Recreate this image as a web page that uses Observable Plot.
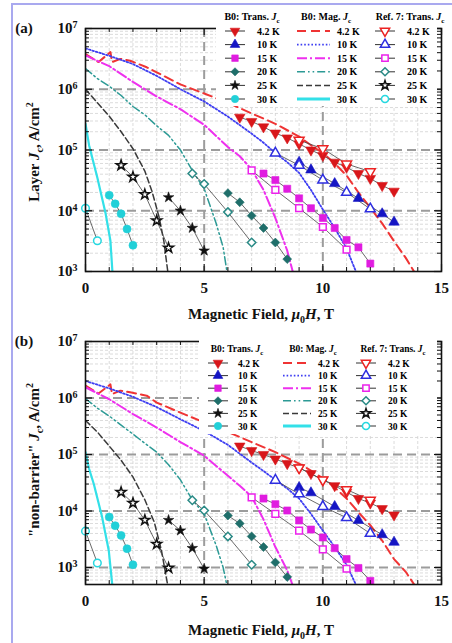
<!DOCTYPE html>
<html><head><meta charset="utf-8">
<script src="https://cdn.jsdelivr.net/npm/d3@7"></script>
<script src="https://cdn.jsdelivr.net/npm/@observablehq/plot@0.6"></script>
<style>
body{margin:0;background:#fff;}
#wrap{position:relative;width:452px;height:643px;overflow:hidden;background:#fff;font-family:"Liberation Serif","Times New Roman",serif;}
#border{position:absolute;left:11px;top:3px;width:470px;height:680px;border-left:2px solid #a9a9ef;border-top:2px solid #a9a9ef;}
.panel{position:absolute;left:0;}
</style></head><body><div id="wrap"><div id="border"></div></div>
<script>
// ---------------- DATA ----------------
const temps = ["4.2 K", "10 K", "15 K", "20 K", "25 K", "30 K"];
const legendHeaders = ["B0: Trans. ", "B0: Mag. ", "Ref. 7: Trans. "];
const xTicks = [0, 5, 10, 15];
const yTicks = [1e3, 1e4, 1e5, 1e6, 1e7];

// Panel (a): Layer Jc
const aTransField = [
  [6.5, 7, 7.5, 8, 8.5, 9, 9.5, 10, 10.5, 11, 11.5, 12, 12.5, 13],
  [9, 9.5, 10.5, 11.5, 12.5, 13],
  [7.5, 8, 8.5, 9, 9.5, 10, 10.5, 11, 11.5, 12],
  [6, 6.5, 7, 7.5, 8, 8.5],
  [3.5, 4, 4.5, 5],
  [1, 1.25, 1.5, 1.75, 2]
];
const aTransJc = [
  [3.47e5, 2.95e5, 2.4e5, 1.9e5, 1.58e5, 1.26e5, 1.0e5, 8.1e4, 6.3e4, 5.2e4, 4.1e4, 3.4e4, 2.6e4, 2.1e4],
  [6.3e4, 4.7e4, 2.8e4, 1.6e4, 8.9e3, 6.5e3],
  [4.1e4, 3.2e4, 2.3e4, 1.6e4, 1.1e4, 7.6e3, 5.2e3, 3.3e3, 2.5e3, 1.35e3],
  [1.95e4, 1.38e4, 8.3e3, 5.2e3, 3.0e3, 1.6e3],
  [1.66e4, 1.0e4, 5.2e3, 2.2e3],
  [1.8e4, 1.3e4, 8.9e3, 5.0e3, 2.7e3]
];
const aRefField = [[9, 10, 11, 12], [8, 9, 10, 11, 12], [7, 8, 9, 10, 11], [4.5, 5, 6, 7], [1.5, 2, 2.5, 3, 3.5], [0, 0.5]];
const aRefJc = [
  [1.45e5, 1.05e5, 5.9e4, 4.4e4],
  [8.9e4, 5.6e4, 3.2e4, 2.0e4, 1.07e4],
  [4.6e4, 2.2e4, 1.1e4, 5.4e3, 2.3e3],
  [4.1e4, 2.75e4, 9.5e3, 3.0e3],
  [5.6e4, 3.6e4, 1.86e4, 6.9e3, 2.45e3],
  [1.1e4, 3.2e3]
];
const aMagField = [
  [0, 0.55, 1.05, 1.12, 1.47, 1.88, 2.58, 3, 4, 5, 6, 7, 8, 9, 9.5, 10, 10.5, 11, 11.5, 12, 12.5, 13, 13.5, 14],
  [0, 1, 2, 3, 4, 5, 6, 7, 7.5, 8, 8.5, 9, 9.5, 10, 10.5, 11, 11.5],
  [0, 1, 2, 3, 4, 5, 6, 6.5, 7, 7.5, 8, 8.5, 8.8],
  [0, 0.5, 1, 1.5, 2, 2.5, 3, 3.5, 4, 4.5, 5, 5.5, 5.8, 6.0],
  [0, 0.5, 1, 1.5, 2, 2.5, 2.8, 3.1, 3.3, 3.5],
  [0, 0.15, 0.5, 0.85, 1.05, 1.15]
];
const aMagJc = [
  [3.8e6, 2.8e6, 4.1e6, 2.8e6, 3.16e6, 2.95e6, 2.3e6, 1.9e6, 1.2e6, 8.5e5, 6.0e5, 4.0e5, 2.7e5, 1.66e5, 1.2e5, 8.9e4, 6.0e4, 3.8e4, 2.0e4, 1.12e4, 6.2e3, 3.16e3, 1.66e3, 7.9e2],
  [4.7e6, 3.55e6, 2.6e6, 1.66e6, 1.0e6, 6.3e5, 3.55e5, 1.86e5, 1.32e5, 8.9e4, 6.3e4, 4.2e4, 2.2e4, 1.05e4, 5.2e3, 2.4e3, 7.9e2],
  [3.6e6, 2.4e6, 1.32e6, 7.6e5, 4.7e5, 2.6e5, 1.12e5, 7.9e4, 4.8e4, 2.2e4, 7.6e3, 2.2e3, 7.9e2],
  [2.2e6, 1.5e6, 1.12e6, 7.9e5, 5.2e5, 3.8e5, 2.5e5, 1.74e5, 1.0e5, 4.6e4, 2.3e4, 6.3e3, 2.5e3, 7.9e2],
  [1.0e6, 6.0e5, 3.6e5, 2.0e5, 1.05e5, 4.5e4, 2.1e4, 7.9e3, 3.2e3, 7.9e2],
  [2.7e5, 1.2e5, 3.5e4, 8.9e3, 3.2e3, 7.9e2]
];

// Panel (b): "non-barrier" Jc
const bTransField = aTransField;
const bTransJc = [
  [1.41e5, 1.17e5, 1.0e5, 8.3e4, 6.9e4, 5.8e4, 4.6e4, 3.55e4, 2.8e4, 2.15e4, 1.66e4, 1.38e4, 1.1e4, 8.5e3],
  [2.6e4, 2.1e4, 1.2e4, 6.8e3, 3.8e3, 2.8e3],
  [1.66e4, 1.32e4, 1.02e4, 6.8e3, 4.7e3, 3.4e3, 2.2e3, 1.41e3, 9.8e2, 5.8e2],
  [8.3e3, 6.0e3, 3.55e3, 2.3e3, 1.23e3, 6.8e2],
  [6.9e3, 4.5e3, 2.2e3, 9.5e2],
  [7.8e3, 5.5e3, 3.7e3, 2.15e3, 1.12e3]
];
const bRefField = aRefField;
const bRefJc = [
  [5.8e4, 3.55e4, 2.4e4, 1.55e4],
  [3.5e4, 2.0e4, 1.2e4, 7.6e3, 4.0e3],
  [1.74e4, 8.9e3, 4.5e3, 2.1e3, 9.5e2],
  [1.55e4, 1.02e4, 3.55e3, 1.12e3],
  [2.15e4, 1.38e4, 6.9e3, 2.6e3, 9.8e2],
  [4.4e3, 1.2e3]
];
const bMagField = [
  [0, 0.55, 1.05, 1.12, 1.47, 1.88, 2.58, 3, 4, 5, 6, 7, 8, 9, 9.5, 10, 10.5, 11, 11.5, 12, 12.5, 13, 13.5, 14],
  [0, 1, 2, 3, 4, 5, 6, 7, 7.5, 8, 8.5, 9, 9.5, 10, 10.5, 11, 11.5],
  [0, 1, 2, 3, 4, 5, 6, 6.5, 7, 7.5, 8, 8.5, 8.8],
  [0, 0.5, 1, 1.5, 2, 2.5, 3, 3.5, 4, 4.5, 5, 5.5, 5.8, 6.0],
  [0, 0.5, 1, 1.5, 2, 2.5, 2.9, 3.2, 3.5],
  [0, 0.15, 0.35, 0.7, 0.98, 1.15]
];
const bMagJc = [
  [1.66e6, 1.2e6, 1.74e6, 1.17e6, 1.35e6, 1.26e6, 1.1e6, 8.3e5, 5.5e5, 3.7e5, 2.5e5, 1.66e5, 1.1e5, 6.9e4, 5.2e4, 3.8e4, 2.6e4, 1.66e4, 9.5e3, 5.6e3, 3.0e3, 1.41e3, 8.3e2, 4.0e2],
  [2.0e6, 1.48e6, 1.05e6, 6.9e5, 4.2e5, 2.6e5, 1.48e5, 7.2e4, 5.1e4, 3.55e4, 2.5e4, 1.66e4, 8.9e3, 4.5e3, 2.3e3, 1.12e3, 4.0e2],
  [1.55e6, 9.5e5, 5.2e5, 3.0e5, 1.66e5, 9.5e4, 4.2e4, 2.8e4, 1.8e4, 7.1e3, 2.3e3, 8.9e2, 4.0e2],
  [9.8e5, 6.6e5, 4.8e5, 3.3e5, 2.3e5, 1.58e5, 1.1e5, 6.6e4, 3.55e4, 1.58e4, 8.9e3, 2.5e3, 1.0e3, 4.0e2],
  [4.0e5, 2.5e5, 1.41e5, 7.9e4, 4.0e4, 1.58e4, 6.3e3, 2.0e3, 4.0e2],
  [1.1e5, 5.6e4, 3.0e4, 7.8e3, 2.0e3, 4.0e2]
];

// ---------------- STYLE ----------------
const W = 452, ML = 85, MR = 11;
const symDown = { draw(ctx, size) { const y = -Math.sqrt(size / (Math.sqrt(3) * 3)); ctx.moveTo(0, -y * 2); ctx.lineTo(-Math.sqrt(3) * y, y); ctx.lineTo(Math.sqrt(3) * y, y); ctx.closePath(); } };
const symbols = [symDown, d3.symbolTriangle, d3.symbolSquare, d3.symbolDiamond2, d3.symbolStar, d3.symbolCircle];
const markerR = [3.9, 3.9, 4.0, 4.0, 3.3, 4.0];
const fillColors = ["#d8161a", "#1515c4", "#e01ce0", "#1f6e6a", "#111111", "#22d0d8"];
const openColors = ["#ec2222", "#2e2ee0", "#ec22ec", "#2a8a86", "#111111", "#26d8e0"];
const lineColors = ["#ef3434", "#3e3ef2", "#ee30ee", "#2c9a95", "#3a3a3a", "#33e0e8"];
const dashes = ["9,5", "1.6,2", "10,3,2,3", "8,3,1.6,3,1.6,3", "6,3", null];
const lineWidths = [2, 1.8, 2, 1.5, 1.5, 2.2];
const font = "'Liberation Serif','Times New Roman',serif";

function rowsOf(fields, jcs) {
  return fields.flatMap((f, i) => f.map((B, k) => ({ s: i, B, J: jcs[i][k] })));
}

function rich(sel, parts) {
  parts.forEach(p => {
    const t = sel.append("tspan").text(p.t);
    if (p.i) t.attr("font-style", "italic");
    if (p.dy) t.attr("dy", p.dy);
    if (p.fs) t.attr("font-size", p.fs);
  });
}

function panel(cfg) {
  const ph = cfg.height - cfg.mt - cfg.mb, pw = W - ML - MR;
  const trans = rowsOf(cfg.transField, cfg.transJc);
  const ref = rowsOf(cfg.refField, cfg.refJc);
  const mag = rowsOf(cfg.magField, cfg.magJc);
  const decadesAll = [];
  const minor = [];
  for (let e = 2; e <= 6; e++) for (let m = 1; m <= 9; m++) {
    const v = m * 10 ** e;
    if (v < cfg.ymin || v > 1e7) continue;
    if (m === 1) decadesAll.push(v); else minor.push(v);
  }
  decadesAll.push(1e7);
  const xMinor = d3.range(1, 15).filter(v => v % 5);
  const marks = [
    Plot.ruleX(xMinor, { stroke: "#d2d2d2", strokeWidth: 0.8, strokeDasharray: "3,2" }),
    Plot.ruleY(minor, { stroke: "#d2d2d2", strokeWidth: 0.8, strokeDasharray: "3,2" }),
    Plot.ruleX([5, 10], { stroke: "#9c9c9c", strokeWidth: 2, strokeDasharray: "9,5" }),
    Plot.ruleY(cfg.majorGrid, { stroke: "#9c9c9c", strokeWidth: 2.2, strokeDasharray: "9,5" })
  ];
  for (let i = 0; i < 6; i++) {
    const o = { x: "B", y: "J", stroke: lineColors[i], strokeWidth: lineWidths[i], clip: true, curve: "linear" };
    if (dashes[i]) o.strokeDasharray = dashes[i];
    marks.push(Plot.line(mag.filter(d => d.s === i), o));
  }
  marks.push(Plot.line(trans, { x: "B", y: "J", z: "s", stroke: "#444", strokeWidth: 0.8, clip: true }));
  marks.push(Plot.line(ref, { x: "B", y: "J", z: "s", stroke: "#444", strokeWidth: 0.8, clip: true }));
  for (let i = 0; i < 6; i++) {
    marks.push(Plot.dot(trans.filter(d => d.s === i), { x: "B", y: "J", symbol: symbols[i], r: markerR[i], fill: fillColors[i], stroke: fillColors[i], strokeWidth: 0.6 }));
  }
  for (let i = 0; i < 6; i++) {
    marks.push(Plot.dot(ref.filter(d => d.s === i), { x: "B", y: "J", symbol: symbols[i], r: markerR[i] * 0.95, fill: "white", stroke: openColors[i], strokeWidth: 1.5 }));
  }
  marks.push(
    Plot.frame({ stroke: "#111", strokeWidth: 1.6 }),
    Plot.ruleX(xTicks, { insetTop: ph - 7, stroke: "#111", strokeWidth: 1.2 }),
    Plot.ruleX(xMinor, { insetTop: ph - 4, stroke: "#111", strokeWidth: 1 }),
    Plot.ruleX(xTicks, { insetBottom: ph - 7, stroke: "#111", strokeWidth: 1.2 }),
    Plot.ruleX(xMinor, { insetBottom: ph - 4, stroke: "#111", strokeWidth: 1 }),
    Plot.ruleY(decadesAll, { insetRight: pw - 7, stroke: "#111", strokeWidth: 1.2 }),
    Plot.ruleY(minor, { insetRight: pw - 4, stroke: "#111", strokeWidth: 1 }),
    Plot.ruleY(decadesAll, { insetLeft: pw - 7, stroke: "#111", strokeWidth: 1.2 }),
    Plot.ruleY(minor, { insetLeft: pw - 4, stroke: "#111", strokeWidth: 1 }),
    Plot.axisX({ ticks: xTicks, tickSize: 0, tickPadding: 11, tickFormat: d => String(d) }),
    Plot.axisY({ ticks: yTicks, tickSize: 0, tickPadding: 8, tickFormat: d => "10^" + Math.round(Math.log10(d)) })
  );
  const el = Plot.plot({
    width: W, height: cfg.height,
    marginLeft: ML, marginRight: MR, marginTop: cfg.mt, marginBottom: cfg.mb,
    style: { fontFamily: font, fontWeight: "bold", fontSize: "15px", background: "transparent", color: "#111", overflow: "visible" },
    x: { domain: [0, 15], label: null },
    y: { type: "log", domain: [cfg.ymin, 1e7], label: null },
    marks
  });
  const svg = d3.select(el);
  svg.selectAll('g[aria-label="y-axis tick label"] text').each(function () {
    const parts = this.textContent.split("^");
    if (parts.length < 2) return;
    const s = d3.select(this);
    s.text(null);
    s.append("tspan").text(parts[0]);
    s.append("tspan").attr("dy", "-0.5em").attr("font-size", "10px").text(parts[1]);
  });
  svg.append("text").attr("x", 24).attr("y", cfg.mt + 5).attr("font-size", 15).attr("font-weight", "bold").attr("font-family", font).text(cfg.letter);
  const xt = svg.append("text").attr("x", ML + pw / 2 - 2).attr("y", cfg.xTitleY).attr("text-anchor", "middle")
    .attr("font-size", 15).attr("font-weight", "bold").attr("font-family", font);
  rich(xt, [{ t: "Magnetic Field, " }, { t: "μ", i: 1 }, { t: "0", dy: 4, fs: 10 }, { t: "H", i: 1, dy: -4 }, { t: ", T" }]);
  const yt = svg.append("text").attr("transform", `translate(39,${cfg.yTitleY}) rotate(-90)`).attr("text-anchor", "middle")
    .attr("font-size", 15).attr("font-weight", "bold").attr("font-family", font);
  rich(yt, [{ t: cfg.yPrefix }, { t: "J", i: 1 }, { t: "c", dy: 4, fs: 10 }, { t: ", A/cm", dy: -4 }, { t: "2", dy: -6, fs: 10 }]);
  const div = document.createElement("div");
  div.className = "panel";
  div.style.top = cfg.top + "px";
  div.appendChild(el);
  document.getElementById("wrap").appendChild(div);
}

panel({ letter: "(a)", top: 0, height: 322, mt: 28, mb: 51, ymin: 1e3, majorGrid: [1e4, 1e5, 1e6],
  transField: aTransField, transJc: aTransJc, refField: aRefField, refJc: aRefJc, magField: aMagField, magJc: aMagJc,
  xTitleY: 319, yTitleY: 152, yPrefix: "Layer " });
panel({ letter: "(b)", top: 322, height: 321, mt: 19, mb: 59, ymin: 500, majorGrid: [1e3, 1e4, 1e5, 1e6],
  transField: bTransField, transJc: bTransJc, refField: bRefField, refJc: bRefJc, magField: bMagField, magJc: bMagJc,
  xTitleY: 313, yTitleY: 138, yPrefix: "\"non-barrier\" " });

// ---------------- LEGENDS (overlay) ----------------
const ov = d3.select("#wrap").append("svg").attr("width", W).attr("height", 643)
  .style("position", "absolute").style("left", 0).style("top", 0).attr("font-family", font).attr("font-weight", "bold");

function legend(L) {
  const g = ov.append("g");
  g.append("rect").attr("x", L.rect[0]).attr("y", L.rect[1]).attr("width", L.rect[2]).attr("height", L.rect[3]).attr("fill", "white");
  legendHeaders.forEach((h, j) => {
    const t = g.append("text").attr("x", L.hx[j]).attr("y", L.hy).attr("text-anchor", "middle").attr("font-size", L.fs);
    rich(t, [{ t: h }, { t: "J", i: 1 }, { t: "c", dy: 3, fs: L.fs * 0.7 }]);
  });
  temps.forEach((lab, i) => {
    const y = L.y0 + i * L.dy;
    g.append("line").attr("x1", L.c1 - 10).attr("x2", L.c1 + 10).attr("y1", y).attr("y2", y).attr("stroke", "#333").attr("stroke-width", 1);
    g.append("path").attr("d", d3.symbol(symbols[i], Math.PI * markerR[i] ** 2 * 0.85)()).attr("transform", `translate(${L.c1},${y})`)
      .attr("fill", fillColors[i]).attr("stroke", fillColors[i]).attr("stroke-width", 0.6);
    g.append("text").attr("x", L.l1).attr("y", y + 3.5).attr("font-size", L.fs).text(lab);
    const ln = g.append("line").attr("x1", L.c2[0]).attr("x2", L.c2[1]).attr("y1", y).attr("y2", y)
      .attr("stroke", lineColors[i]).attr("stroke-width", i === 5 ? 3 : lineWidths[i]);
    if (dashes[i]) ln.attr("stroke-dasharray", dashes[i]);
    g.append("text").attr("x", L.l2).attr("y", y + 3.5).attr("font-size", L.fs).text(lab);
    g.append("line").attr("x1", L.c3 - 10).attr("x2", L.c3 + 10).attr("y1", y).attr("y2", y).attr("stroke", "#333").attr("stroke-width", 1);
    g.append("path").attr("d", d3.symbol(symbols[i], Math.PI * markerR[i] ** 2 * 0.8)()).attr("transform", `translate(${L.c3},${y})`)
      .attr("fill", "white").attr("stroke", openColors[i]).attr("stroke-width", 1.5);
    g.append("text").attr("x", L.l3).attr("y", y + 3.5).attr("font-size", L.fs).text(lab);
  });
}

legend({ rect: [216, 7, 221, 99], hx: [252, 326, 410], hy: 20, fs: 10, y0: 31, dy: 13.6,
  c1: 235, l1: 257, c2: [297, 330], l2: 337, c3: 385, l3: 407 });
legend({ rect: [199, 337, 238, 97], hx: [237, 313, 393], hy: 352, fs: 9.5, y0: 363, dy: 12.6,
  c1: 218, l1: 238, c2: [283, 311], l2: 318, c3: 366, l3: 388 });
</script>
</body></html>
